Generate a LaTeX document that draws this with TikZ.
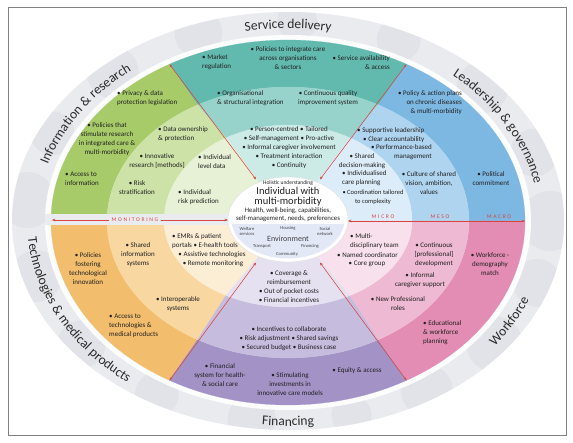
\documentclass[tikz,border=0pt]{standalone}
\usepackage{fontspec}
\setmainfont{Carlito}
\newfontfamily\spacedfont[LetterSpace=30]{Carlito}
\usetikzlibrary{arrows.meta,decorations.text}
\definecolor{tealA}{HTML}{62B9AE}\definecolor{tealB}{HTML}{97D3CB}\definecolor{tealC}{HTML}{CCEAE6}
\definecolor{blueA}{HTML}{7DB8E3}\definecolor{blueB}{HTML}{AFD4EF}\definecolor{blueC}{HTML}{DCEDF9}
\definecolor{pinkA}{HTML}{E48DB4}\definecolor{pinkB}{HTML}{EEB9D2}\definecolor{pinkC}{HTML}{F8E1EC}
\definecolor{purpA}{HTML}{A392C6}\definecolor{purpB}{HTML}{C6BCDE}\definecolor{purpC}{HTML}{E6E1F1}
\definecolor{oranA}{HTML}{F2BD6D}\definecolor{oranB}{HTML}{F8D7A1}\definecolor{oranC}{HTML}{FCEDD5}
\definecolor{grenA}{HTML}{A8CB69}\definecolor{grenB}{HTML}{CCE2A6}\definecolor{grenC}{HTML}{E6F1D5}
\definecolor{ringgrey}{HTML}{E9EBEF}\definecolor{bubblec}{HTML}{DADDE3}
\definecolor{envc}{HTML}{E3E8F7}\definecolor{redc}{HTML}{D64541}
\definecolor{txtc}{HTML}{202020}\definecolor{lblc}{HTML}{2B2B2B}\definecolor{framec}{HTML}{808080}
\newcommand\ringsec[7]{\filldraw[fill=#1,draw=#1,line width=0.2pt] (#2:#4 and #5) arc[start angle=#2,end angle=#3,x radius=#4,y radius=#5] -- (#3:#6 and #7) arc[start angle=#3,end angle=#2,x radius=#6,y radius=#7] -- cycle;}
\newcommand\ringpie[5]{\filldraw[fill=#1,draw=#1,line width=0.2pt] (0,0) -- (#2:#4 and #5) arc[start angle=#2,end angle=#3,x radius=#4,y radius=#5] -- cycle;}
\newcommand\lblfmt{\fontsize{13.5}{14}\selectfont\color{lblc}}
\tikzset{
 itm/.style={font=\fontsize{7}{9}\selectfont, text=txtc, inner sep=0pt, align=center},
 itml/.style={itm, align=left, anchor=west},
 itmr/.style={itm, align=right, anchor=east},
 envt/.style={font=\fontsize{4.6}{5}\selectfont, text=txtc!85, inner sep=0pt, align=center},
 redarr/.style={draw=redc, line width=0.55pt, {Stealth[length=3.2pt,width=2.6pt]}-{Stealth[length=3.2pt,width=2.6pt]}},
 lvl/.style={font=\fontsize{5.6}{6}\spacedfont, text=redc, inner sep=0.6pt},
}
\begin{document}
\begin{tikzpicture}[x=1pt,y=1pt]
\useasboundingbox (0,0) rectangle (573,442);
\fill[white] (0,0) rectangle (573,442);
\begin{scope}[shift={(288,221)}]
 % outer grey ring with bubbles
 \fill[ringgrey] (0,0) ellipse[x radius=276, y radius=209];
 \begin{scope}
  \clip (0,0) ellipse[x radius=276, y radius=209];
  \foreach \a/\r in {0/30,20/24,42/26,65/22,88/20,110/24,132/26,154/22,174/28,196/26,218/24,240/22,262/24,284/20,302/26,322/28,342/24}
   \fill[bubblec, opacity=0.5] (\a:262 and 200) circle[radius=\r];
 \end{scope}
 % halo
 \fill[white, opacity=0.9] (243,0) arc[start angle=0,end angle=180,x radius=243,y radius=186] arc[start angle=180,end angle=360,x radius=243,y radius=189] -- cycle;
 % sectors (upper)
 \ringsec{tealA}{60}{120}{237}{181}{181}{134}
 \ringsec{tealB}{60}{120}{181}{134}{124}{96}
 \ringpie{tealC}{60}{120}{124}{96}
 \ringsec{grenA}{120}{180}{237}{181}{181}{134}
 \ringsec{grenB}{120}{180}{181}{134}{124}{96}
 \ringpie{grenC}{120}{180}{124}{96}
 \ringsec{blueA}{0}{60}{237}{181}{181}{134}
 \ringsec{blueB}{0}{60}{181}{134}{124}{96}
 \ringpie{blueC}{0}{60}{124}{96}
 % sectors (lower)
 \ringsec{oranA}{180}{240}{237}{184}{181}{137}
 \ringsec{oranB}{180}{240}{181}{137}{124}{86}
 \ringpie{oranC}{180}{240}{124}{86}
 \ringsec{purpA}{240}{300}{237}{184}{181}{137}
 \ringsec{purpB}{240}{300}{181}{137}{124}{86}
 \ringpie{purpC}{240}{300}{124}{86}
 \ringsec{pinkA}{300}{360}{237}{184}{181}{137}
 \ringsec{pinkB}{300}{360}{181}{137}{124}{86}
 \ringpie{pinkC}{300}{360}{124}{86}
 % left band
 \fill[ringgrey] (-243,-4) rectangle (0,6.7);
 % red arrows
 \coordinate (tlO) at (120:237 and 181); \coordinate (tlI) at (120:64 and 48);
 \coordinate (trO) at (60:237 and 181);  \coordinate (trI) at (60:64 and 48);
 \coordinate (blO) at (240:237 and 184); \coordinate (blI) at (240:64 and 48);
 \coordinate (brO) at (300:237 and 184); \coordinate (brI) at (300:64 and 48);
 \coordinate (mL) at (-236,1); \coordinate (mR) at (-60,1);
 \coordinate (rL) at (60,0); \coordinate (rR) at (237,0);
 \draw[redarr] (tlO) -- (tlI);
 \draw[redarr] (trO) -- (trI);
 \draw[redarr] (blO) -- (blI);
 \draw[redarr] (brO) -- (brI);
 \draw[redarr] (mL) -- (mR);
 \draw[redarr] (rL) -- (rR);
 \node[lvl, fill=ringgrey, inner xsep=2.5pt] (mon) at (-153,1) {MONITORING};
 \node[lvl] (micro) at (95,4) {MICRO};
 \node[lvl] (meso) at (152,4) {MESO};
 \node[lvl] (macro) at (211,4) {MACRO};
 % centre
 \filldraw[fill=white, draw=black!12, line width=0.4pt] (0,1.5) ellipse[x radius=60, y radius=42.5];
 \begin{scope}
  \clip (0,1.5) ellipse[x radius=56.5, y radius=39];
  \fill[envc] (-70,-60) rectangle (70,-3);
 \end{scope}
 % outer labels
 \path[decorate, decoration={text along path, text align=center, text={|\lblfmt|Service delivery}}]
   (120:251 and 192.5) arc[start angle=120,end angle=60,x radius=251,y radius=192.5];
 \path[decorate, decoration={text along path, text align=center, text={|\lblfmt|Information {\&} research}}]
   (177:251 and 192.5) arc[start angle=177,end angle=117,x radius=251,y radius=192.5];
 \path[decorate, decoration={text along path, text align=center, text={|\lblfmt|Leadership {\&} governance}}]
   (59:251 and 192.5) arc[start angle=59,end angle=-1,x radius=251,y radius=192.5];
 \path[decorate, decoration={text along path, text align=center, text={|\lblfmt|Technologies {\&} medical products}}]
   (169:261 and 205) arc[start angle=169,end angle=245,x radius=261,y radius=205];
 \path[decorate, decoration={text along path, text align=center, text={|\lblfmt|Financing}}]
   (245:261 and 205) arc[start angle=245,end angle=295,x radius=261,y radius=205];
 \path[decorate, decoration={text along path, text align=center, text={|\lblfmt|Workforce}}]
   (-54:261 and 205) arc[start angle=-54,end angle=-4,x radius=261,y radius=205];
\end{scope}
% centre texts
\node[itm, font=\fontsize{5.5}{6}\selectfont] (c1) at (288,259) {Holistic understanding};
\node[itm, font=\fontsize{10.5}{10}\selectfont] (c2) at (288,245) {Individual with\\multi-morbidity};
\node[itm, font=\fontsize{6.8}{8}\selectfont] (c3) at (288,227) {Health, well-being, capabilities,\\self-management, needs, preferences};
\node[envt] (e1) at (247,211) {Welfare\\services};
\node[envt] (e2) at (288,214) {Housing};
\node[envt] (e3) at (325,211) {Social\\network};
\node[itm, font=\fontsize{8}{8}\selectfont, text=txtc!85] (e4) at (288,203) {Environment};
\node[envt] (e5) at (262,196) {Transport};
\node[envt] (e6) at (310,196) {Financing};
\node[envt] (e7) at (287,187.5) {Community};
% service delivery
\node[itml] (n1) at (202,380) {• Market\\regulation};
\node[itm] (n2) at (288,383.5) {• Policies to integrate care\\across organisations\\\& sectors};
\node[itmr] (n3) at (390,379.5) {• Service availability\\\& access};
\node[itml] (n4) at (217,344) {• Organisational\\\& structural integration};
\node[itm] (n5) at (328,344) {• Continuous quality\\improvement system};
\node[itm] (n6) at (289,294) {• Person-centred • Tailored\\• Self-management • Pro-active\\• Informal caregiver involvement\\• Treatment interaction\\• Continuity};
% leadership
\node[itmr] (n7) at (462,339) {• Policy \& action plans\\on chronic diseases\\\& multi-morbidity};
\node[itml] (n8) at (357,311) {• Supportive leadership};
\node[itml] (n9) at (363,302) {• Clear accountability};
\node[itmr] (n10) at (432,289.5) {• Performance-based\\management};
\node[itm] (n11) at (429,259) {• Culture of shared\\vision, ambition,\\values};
\node[itm] (n12) at (491,263.5) {• Political\\commitment};
\node[itm] (n13) at (362,280.5) {• Shared\\decision-making};
\node[itml] (n14) at (342,263.5) {• Individualised\\care planning};
\node[itm, font=\fontsize{6.5}{9}\selectfont] (n15) at (373,244.5) {• Coordination tailored\\to complexity};
% workforce
\node[itml] (n16) at (350,200.5) {• Multi-\\disciplinary team};
\node[itm] (n17) at (367.5,187) {• Named coordinator};
\node[itm] (n18) at (367,178) {• Core group};
\node[itm] (n19) at (434,187) {• Continuous\\{[professional]}\\development};
\node[itm] (n20) at (420,162) {• Informal\\caregiver support};
\node[itm] (n21) at (398,138) {• New Professional\\roles};
\node[itm] (n22) at (490,178) {• Workforce -\\demography\\match};
\node[itml] (n23) at (423,109) {• Educational\\\& workforce\\planning};
% financing
\node[itm] (n24) at (289,155.5) {• Coverage \&\\reimbursement\\• Out of pocket costs\\• Financial incentives};
\node[itm] (n25) at (289,103) {• Incentives to collaborate\\• Risk adjustment • Shared savings\\• Secured budget • Business case};
\node[itm] (n26) at (220,67) {• Financial\\system for health-\\\& social care};
\node[itm] (n27) at (290,58) {• Stimulating\\investments in\\innovative care models};
\node[itm] (n28) at (357,71) {• Equity \& access};
% technologies
\node[itml] (n29) at (172,200.5) {• EMRs \& patient\\portals • E-health tools};
\node[itm] (n30) at (212,187) {• Assistive technologies};
\node[itm] (n31) at (213,178) {• Remote monitoring};
\node[itm] (n32) at (138,187) {• Shared\\information\\systems};
\node[itm] (n33) at (178,138) {• Interoperable\\systems};
\node[itm] (n34) at (88,173.5) {• Policies\\fostering\\technological\\innovation};
\node[itml] (n35) at (109,116) {• Access to\\technologies \&\\medical products};
% information
\node[itml] (n36) at (117,343.5) {• Privacy \& data\\protection legislation};
\node[itm] (n37) at (107,303) {• Policies that\\stimulate research\\in integrated care \&\\multi-morbidity};
\node[itml] (n38) at (65,263.5) {• Access to\\information};
\node[itml] (n39) at (158,307.5) {• Data ownership\\\& protection};
\node[itm] (n40) at (157,280.5) {• Innovative\\research {[methods]}};
\node[itm] (n41) at (137,254) {• Risk\\stratification};
\node[itml] (n42) at (198,280.5) {• Individual\\level data};
\node[itml] (n43) at (178,244.5) {• Individual\\risk prediction};
% frame
\draw[framec, line width=0.9pt] (8,7) rectangle (566,435);
\end{tikzpicture}
\end{document}
